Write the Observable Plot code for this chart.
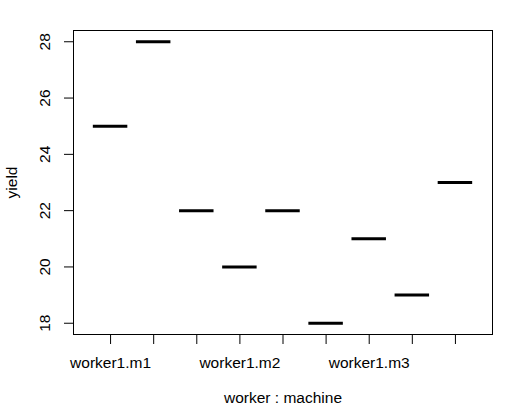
<!DOCTYPE html>
<html>
<head>
<meta charset="utf-8">
<script src="https://cdn.jsdelivr.net/npm/d3@7"></script>
<script src="https://cdn.jsdelivr.net/npm/@observablehq/plot@0.6"></script>
<style>
  html, body { margin: 0; padding: 0; background: #fff; }
  svg { display: block; }
</style>
</head>
<body>
<div id="chart"></div>
<script>
const groups = ["worker1.m1","worker2.m1","worker3.m1","worker1.m2","worker2.m2","worker3.m2","worker1.m3","worker2.m3","worker3.m3"];
const yields = [25, 28, 22, 20, 22, 18, 21, 19, 23];
const yTicks = [18, 20, 22, 24, 26, 28];
const shownLabels = ["worker1.m1","worker1.m2","worker1.m3"];

const data = groups.map((g, i) => ({group: g, pos: i + 1, value: yields[i]}));
const n = groups.length;
const pad = n * 0.04;

const chart = Plot.plot({
  width: 526,
  height: 414,
  marginLeft: 73,
  marginRight: 34,
  marginTop: 30,
  marginBottom: 80,
  style: {fontFamily: "'Liberation Sans', Arial, sans-serif", fontSize: "16px", color: "#000", background: "#fff"},
  x: {type: "linear", domain: [0.5 - pad, n + 0.5 + pad]},
  y: {domain: [17.6, 28.4]},
  marks: [
    Plot.frame({stroke: "#000", strokeWidth: 1}),
    Plot.ruleY(data, {x1: d => d.pos - 0.4, x2: d => d.pos + 0.4, y: "value", stroke: "#000", strokeWidth: 3}),
    Plot.axisX(data.map(d => d.pos), {
      tickSize: 10,
      tickPadding: 12,
      tickFormat: p => shownLabels.includes(groups[p - 1]) ? groups[p - 1] : "",
      label: null,
      fontSize: 15.5
    }),
    Plot.text(["worker : machine"], {frameAnchor: "bottom", dy: 68, text: d => d, fontSize: 15.5}),
    Plot.axisY(yTicks, {tickSize: 9, tickFormat: () => "", label: null}),
    Plot.text(yTicks, {y: d => d, frameAnchor: "left", dx: -28, rotate: -90, text: d => String(d), fontSize: 15.5, textAnchor: "middle"}),
    Plot.text(["yield"], {frameAnchor: "left", dx: -61, rotate: -90, text: d => d, fontSize: 15.5, textAnchor: "middle"})
  ]
});
document.getElementById("chart").appendChild(chart);
</script>
</body>
</html>
